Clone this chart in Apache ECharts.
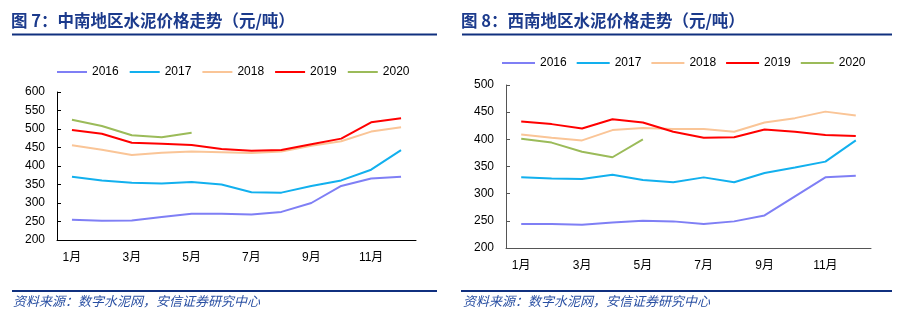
<!DOCTYPE html>
<html><head><meta charset="utf-8">
<script src="https://cdn.jsdelivr.net/npm/echarts@6/dist/echarts.min.js"></script>
<style>html,body{margin:0;padding:0;background:#fff}#c{width:903px;height:323px}</style>
</head><body><div id="c"></div>
<script>
var months = ['1月','2月','3月','4月','5月','6月','7月','8月','9月','10月','11月','12月'];
var years = ['2016','2017','2018','2019','2020'];
// 中南地区
var cs2016 = [255, 252, 253, 262, 271, 271, 269, 276, 300, 346, 366, 371];
var cs2017 = [371, 361, 355, 353, 357, 350, 329, 328, 346, 361, 390, 443];
var cs2018 = [456, 444, 430, 436, 439, 437, 435, 439, 455, 467, 493, 505];
var cs2019 = [497, 487, 463, 460, 457, 446, 441, 443, 459, 474, 518, 529];
var cs2020 = [525, 508, 483, 478, 490];
// 西南地区
var sw2016 = [244, 244, 243, 247, 250, 249, 244, 249, 260, 295, 330, 333];
var sw2017 = [330, 328, 327, 335, 325, 321, 330, 321, 338, 348, 359, 398];
var sw2018 = [409, 403, 398, 417, 421, 419, 419, 414, 431, 439, 451, 444];
var sw2019 = [433, 428, 420, 437, 431, 414, 403, 404, 418, 414, 408, 406];
var sw2020 = [401, 394, 377, 367, 400];
var leftTicks = {min:200, max:600, interval:50};
var rightTicks = {min:200, max:500, interval:50};

var colors = ['#7f7ff5','#12b0ee','#fac597','#ff0000','#9bbb59'];
var font = 'Liberation Sans, Arial, Noto Sans CJK SC';
var chart = echarts.init(document.getElementById('c'), null, {renderer:'canvas'});

function mkSeries(dataArr, gi){
  return dataArr.map(function(d,i){
    return {name: years[i], type:'line', xAxisIndex:gi, yAxisIndex:gi, data:d,
      symbol:'none', smooth:false, lineStyle:{width:2, color:colors[i]}, itemStyle:{color:colors[i]}};
  });
}
function xAx(gi, axisColor){
  return {type:'category', gridIndex:gi, data:months, boundaryGap:true,
    axisLine:{lineStyle:{color:axisColor, width:1}},
    axisTick:{inside:true, length:4, interval:0, lineStyle:{color:axisColor}},
    axisLabel:{interval:1, margin:12, color:'#000', fontSize:12, fontFamily:font}};
}
function yAx(gi, t, axisColor){
  return {type:'value', gridIndex:gi, min:t.min, max:t.max, interval:t.interval,
    axisLine:{show:true, lineStyle:{color:axisColor, width:1}},
    axisTick:{show:true, inside:true, length:4, lineStyle:{color:axisColor}},
    splitLine:{show:false},
    axisLabel:{margin:12, color:'#000', fontSize:12, fontFamily:font}};
}
var titleStyle = {fontSize:16.5, fontWeight:'bold', color:'#1b3a8c', fontFamily:'Noto Sans CJK SC'};
var navy = '#10307f';
var srcStyle = {fontSize:13, fontStyle:'italic', fill:'#2a50a3', fontFamily:'Noto Sans CJK SC'};
var legendText = {fontSize:12, fontFamily:font, color:'#000'};

chart.setOption({
  animation:false,
  title:[
    {text:'图 7：中南地区水泥价格走势（元/吨）', left:11, top:12, textStyle:titleStyle, padding:0},
    {text:'图 8：西南地区水泥价格走势（元/吨）', left:461, top:12, textStyle:titleStyle, padding:0}
  ],
  legend:[
    {data:years, icon:'rect', left:57, top:66, itemWidth:30, itemHeight:2, itemGap:11, padding:0,
      textStyle:legendText},
    {data:years, icon:'rect', left:502, top:57, itemWidth:33, itemHeight:2, itemGap:10, padding:0,
      textStyle:legendText}
  ],
  grid:[
    {left:57, width:359, top:92, height:148},
    {left:506, width:365, top:85, height:163}
  ],
  xAxis:[xAx(0,'#000'), xAx(1,'#555')],
  yAxis:[yAx(0,leftTicks,'#000'), yAx(1,rightTicks,'#555')],
  series: mkSeries([cs2016,cs2017,cs2018,cs2019,cs2020],0)
    .concat(mkSeries([sw2016,sw2017,sw2018,sw2019,sw2020],1)),
  graphic:[
    {type:'line', shape:{x1:12, y1:34.5, x2:437, y2:34.5}, style:{stroke:navy, lineWidth:2}},
    {type:'line', shape:{x1:462, y1:34.5, x2:892, y2:34.5}, style:{stroke:navy, lineWidth:2}},
    {type:'line', shape:{x1:12, y1:291, x2:437, y2:291}, style:{stroke:navy, lineWidth:2}},
    {type:'line', shape:{x1:461, y1:291, x2:892, y2:291}, style:{stroke:navy, lineWidth:2}},
    {type:'text', left:13, top:295, style:Object.assign({text:'资料来源：数字水泥网，安信证券研究中心'}, srcStyle)},
    {type:'text', left:463, top:295, style:Object.assign({text:'资料来源：数字水泥网，安信证券研究中心'}, srcStyle)}
  ]
});
</script></body></html>
